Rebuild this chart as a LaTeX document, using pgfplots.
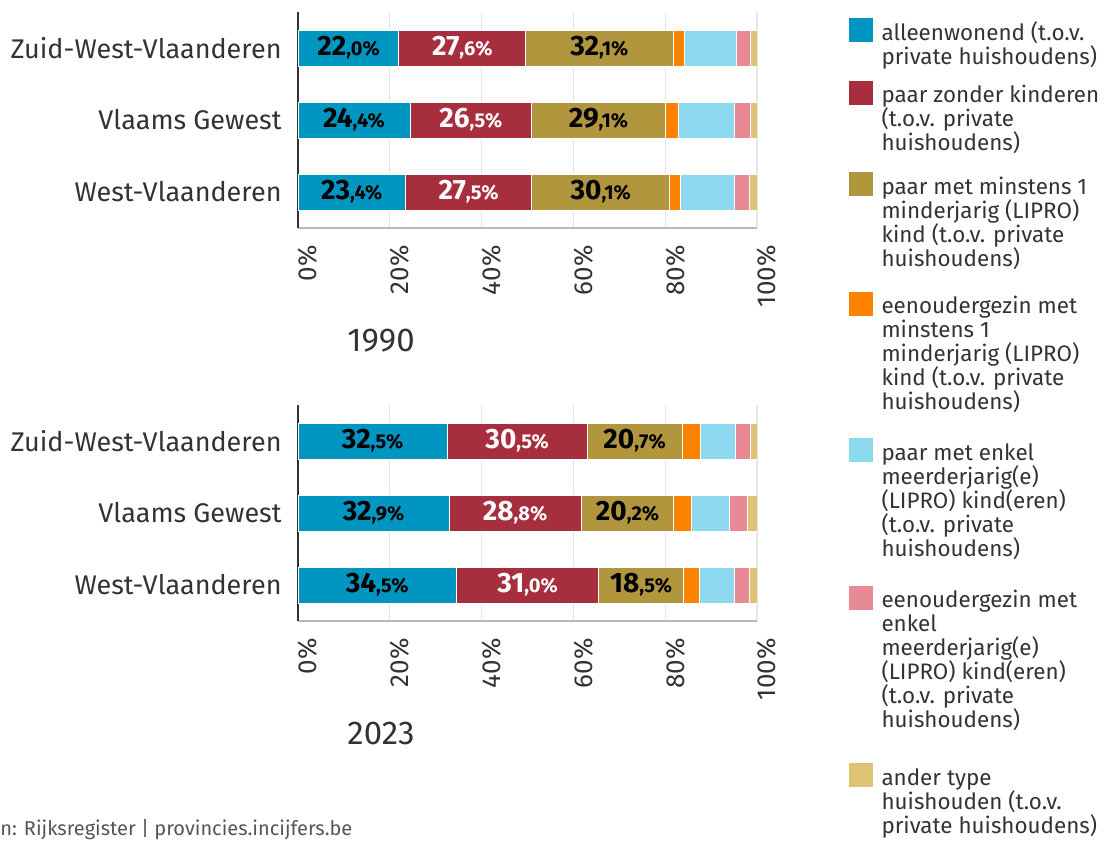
\documentclass[border=0pt]{standalone}
\usepackage{pgfplots}
\pgfplotsset{compat=1.18}
\usepackage{pgfplotstable}
\usepackage{fontspec}
\setmainfont{Fira Sans}
\definecolor{cA}{HTML}{0096C2}
\definecolor{cB}{HTML}{A62E3D}
\definecolor{cC}{HTML}{B2963E}
\definecolor{cD}{HTML}{FA8200}
\definecolor{cE}{HTML}{8CD8EE}
\definecolor{cF}{HTML}{E88A96}
\definecolor{cG}{HTML}{DEC472}
\definecolor{txt}{HTML}{333333}
\definecolor{gridc}{HTML}{E6E6E6}
\definecolor{srcc}{HTML}{555555}
\protected\def\bl#1#2{\textbf{\fontsize{14}{14}\selectfont #1}\textbf{\fontsize{10}{10}\selectfont ,#2\%}}

\pgfplotstableread{
y a b c d e f g
2 22.0 27.6 32.1 2.4 11.5 3.0 1.4
1 24.4 26.5 29.1 2.8 12.2 3.5 1.5
0 23.4 27.5 30.1 2.4 11.7 3.2 1.7
}\tabA
\pgfplotstableread{
y a b c d e f g
2 32.5 30.5 20.7 4.0 7.6 3.3 1.4
1 32.9 28.8 20.2 3.9 8.2 4.0 2.0
0 34.5 31.0 18.5 3.5 7.6 3.2 1.7
}\tabB

\pgfplotsset{
 base/.style={scale only axis, width=229.5pt, height=108pt, xmin=0, xmax=100, ymin=-0.5, ymax=2.5, anchor=south west},
 bars/.style={base, xbar stacked, bar width=18pt,
   ytick={0,1,2}, yticklabels={West-Vlaanderen,Vlaams Gewest,Zuid-West-Vlaanderen},
   xtick={0,20,40,60,80,100}, xticklabels={0\%,20\%,40\%,60\%,80\%,100\%},
   xmajorgrids, grid style={draw=gridc, line width=0.6pt},
   major tick length=0pt, axis lines*=left,
   x axis line style={draw=gray!55, line width=0.6pt},
   y axis line style={draw=txt, line width=0.8pt},
   ticklabel style={text=txt},
   yticklabel style={font=\fontsize{13.5}{16}\selectfont, anchor=east, inner sep=0pt},
   yticklabel shift=8pt,
   xticklabel style={font=\fontsize{13}{15}\selectfont, rotate=90, anchor=north east, inner sep=0pt},
   xticklabel shift=8.5pt,
   title style={font=\fontsize{16.5}{19}\selectfont, text=txt, anchor=base, at={(axis description cs:0.1808,-0.625)}, inner sep=0pt},
   every axis plot/.append style={draw=white, line width=0.5pt}},
 lbls/.style={base, hide axis, nodes near coords, point meta=explicit symbolic,
   nodes near coords style={anchor=center, inner sep=0pt}},
 limg/.style={legend image code/.code={\fill[##1,draw=none] (0pt,0pt) rectangle (12pt,-12pt); \path (0pt,-#1);}},
}

\begin{document}
\begin{tikzpicture}
\path[use as bounding box] (0pt,0pt) rectangle (555.5pt,420.5pt);

\begin{axis}[bars, at={(149pt,306.5pt)}, title={1990},
  legend style={at={(axis description cs:1.1983,0.9722)}, anchor=north west, draw=none, fill=none,
    inner sep=0pt, outer sep=0pt, row sep=0pt, font=\fontsize{11.2}{12}\selectfont,
    cells={anchor=north west, align=left}, nodes={inner sep=0pt, outer sep=0pt, text=txt},
    /tikz/every odd column/.append style={column sep=4.5pt}}]
\addplot[fill=cA, limg=31pt] table[x=a,y=y]{\tabA};
\addlegendentry{\rule{0pt}{11pt}alleenwonend (t.o.v.\\private huishoudens)}
\addplot[fill=cB, limg=45.5pt] table[x=b,y=y]{\tabA};
\addlegendentry{\rule{0pt}{11pt}paar zonder kinderen\\(t.o.v. private\\huishoudens)}
\addplot[fill=cC, limg=59.5pt] table[x=c,y=y]{\tabA};
\addlegendentry{\rule{0pt}{11pt}paar met minstens 1\\minderjarig (LIPRO)\\kind (t.o.v. private\\huishoudens)}
\addplot[fill=cD, limg=73pt] table[x=d,y=y]{\tabA};
\addlegendentry{\rule{0pt}{11pt}eenoudergezin met\\minstens 1\\minderjarig (LIPRO)\\kind (t.o.v. private\\huishoudens)}
\addplot[fill=cE, limg=73.5pt] table[x=e,y=y]{\tabA};
\addlegendentry{\rule{0pt}{11pt}paar met enkel\\meerderjarig(e)\\(LIPRO) kind(eren)\\(t.o.v. private\\huishoudens)}
\addplot[fill=cF, limg=88.5pt] table[x=f,y=y]{\tabA};
\addlegendentry{\rule{0pt}{11pt}eenoudergezin met\\enkel\\meerderjarig(e)\\(LIPRO) kind(eren)\\(t.o.v. private\\huishoudens)}
\addplot[fill=cG, limg=12pt] table[x=g,y=y]{\tabA};
\addlegendentry{\rule{0pt}{11pt}ander type\\huishouden (t.o.v.\\private huishoudens)}
\end{axis}

\begin{axis}[lbls, at={(149pt,306.5pt)}]
\addplot[draw=none, nodes near coords style={text=black}] coordinates {(11.0,2)[\bl{22}{0}] (12.2,1)[\bl{24}{4}] (11.7,0)[\bl{23}{4}]};
\addplot[draw=none, nodes near coords style={text=white}] coordinates {(35.8,2)[\bl{27}{6}] (37.65,1)[\bl{26}{5}] (37.15,0)[\bl{27}{5}]};
\addplot[draw=none, nodes near coords style={text=black}] coordinates {(65.65,2)[\bl{32}{1}] (65.45,1)[\bl{29}{1}] (65.95,0)[\bl{30}{1}]};
\end{axis}

\begin{axis}[bars, at={(149pt,110pt)}, title={2023}]
\addplot[fill=cA] table[x=a,y=y]{\tabB};
\addplot[fill=cB] table[x=b,y=y]{\tabB};
\addplot[fill=cC] table[x=c,y=y]{\tabB};
\addplot[fill=cD] table[x=d,y=y]{\tabB};
\addplot[fill=cE] table[x=e,y=y]{\tabB};
\addplot[fill=cF] table[x=f,y=y]{\tabB};
\addplot[fill=cG] table[x=g,y=y]{\tabB};
\end{axis}

\begin{axis}[lbls, at={(149pt,110pt)}]
\addplot[draw=none, nodes near coords style={text=black}] coordinates {(16.25,2)[\bl{32}{5}] (16.45,1)[\bl{32}{9}] (17.25,0)[\bl{34}{5}]};
\addplot[draw=none, nodes near coords style={text=white}] coordinates {(47.75,2)[\bl{30}{5}] (47.3,1)[\bl{28}{8}] (50.0,0)[\bl{31}{0}]};
\addplot[draw=none, nodes near coords style={text=black}] coordinates {(73.35,2)[\bl{20}{7}] (71.8,1)[\bl{20}{2}] (74.75,0)[\bl{18}{5}]};
\end{axis}

\node[anchor=base west, inner sep=0pt, font=\fontsize{10}{12}\selectfont, text=srcc] at (0pt,3pt) {n: Rijksregister | provincies.incijfers.be};
\end{tikzpicture}
\end{document}
